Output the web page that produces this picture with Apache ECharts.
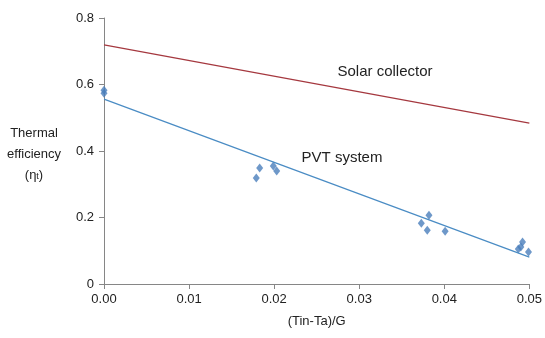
<!DOCTYPE html>
<html><head><meta charset="utf-8">
<script src="https://cdn.jsdelivr.net/npm/echarts@6/dist/echarts.min.js"></script>
<style>html,body{margin:0;padding:0;background:#fff}#c{width:545px;height:338px}</style>
</head><body><div id="c"></div>
<script>
const pvtX = [0, 0, 0.0179, 0.0183, 0.0199, 0.0203, 0.0373, 0.0380, 0.0382, 0.0401, 0.0487, 0.0490, 0.0492, 0.0499];
const pvtY = [0.583, 0.574, 0.319, 0.349, 0.355, 0.340, 0.183, 0.162, 0.207, 0.159, 0.105, 0.111, 0.126, 0.096];
const pvtLineX = [0, 0.05];
const pvtLineY = [0.556, 0.081];
const solarLineX = [0, 0.05];
const solarLineY = [0.719, 0.484];
const xTicks = [0, 0.01, 0.02, 0.03, 0.04, 0.05];
const yTicks = [0, 0.2, 0.4, 0.6, 0.8];

const font = 'Liberation Sans';
const chart = echarts.init(document.getElementById('c'));
chart.setOption({
  animation: false,
  textStyle: {fontFamily: font},
  grid: {left: 104, right: 12, top: 18, bottom: 54},
  xAxis: {
    type: 'value', min: 0, max: 0.05, interval: 0.01,
    axisLine: {show: true, lineStyle: {color: '#868686'}},
    axisTick: {show: true, length: 5, lineStyle: {color: '#868686'}},
    splitLine: {show: false},
    axisLabel: {color: '#222', fontSize: 13, margin: 9, formatter: v => v.toFixed(2)},
    name: '(Tin-Ta)/G', nameLocation: 'middle', nameGap: 31,
    nameTextStyle: {color: '#222', fontSize: 13}
  },
  yAxis: {
    type: 'value', min: 0, max: 0.8, interval: 0.2,
    axisLine: {show: true, lineStyle: {color: '#868686'}},
    axisTick: {show: true, length: 5, lineStyle: {color: '#868686'}},
    splitLine: {show: false},
    axisLabel: {color: '#222', fontSize: 13, margin: 10, formatter: v => (v === 0 ? '0' : v.toFixed(1))}
  },
  graphic: [
    {type: 'text', x: 34, y: 154, style: {
      text: '{a|Thermal}\n{a|efficiency}\n{a|(η}{s|t}{a|)}',
      align: 'center', verticalAlign: 'middle', lineHeight: 21, fill: '#222',
      rich: {a: {fontSize: 13, fontFamily: font, lineHeight: 21}, s: {fontSize: 9, fontFamily: font, lineHeight: 21, padding: [3,0,0,0]}}
    }},
    {type: 'text', x: 385, y: 72, style: {text: 'Solar collector', fontSize: 15, fontFamily: font, fill: '#222', align: 'center', verticalAlign: 'middle'}},
    {type: 'text', x: 342, y: 158, style: {text: 'PVT system', fontSize: 15, fontFamily: font, fill: '#222', align: 'center', verticalAlign: 'middle'}}
  ],
  series: [
    {type: 'line', data: solarLineX.map((x, i) => [x, solarLineY[i]]), showSymbol: false, lineStyle: {color: '#A5383F', width: 1.2}},
    {type: 'line', data: pvtLineX.map((x, i) => [x, pvtLineY[i]]), showSymbol: false, lineStyle: {color: '#4A8CC4', width: 1.2}},
    {type: 'scatter', data: pvtX.map((x, i) => [x, pvtY[i]]), symbol: 'diamond', symbolSize: [7, 9], itemStyle: {color: '#4A7EBB'}}
  ]
});
</script></body></html>
